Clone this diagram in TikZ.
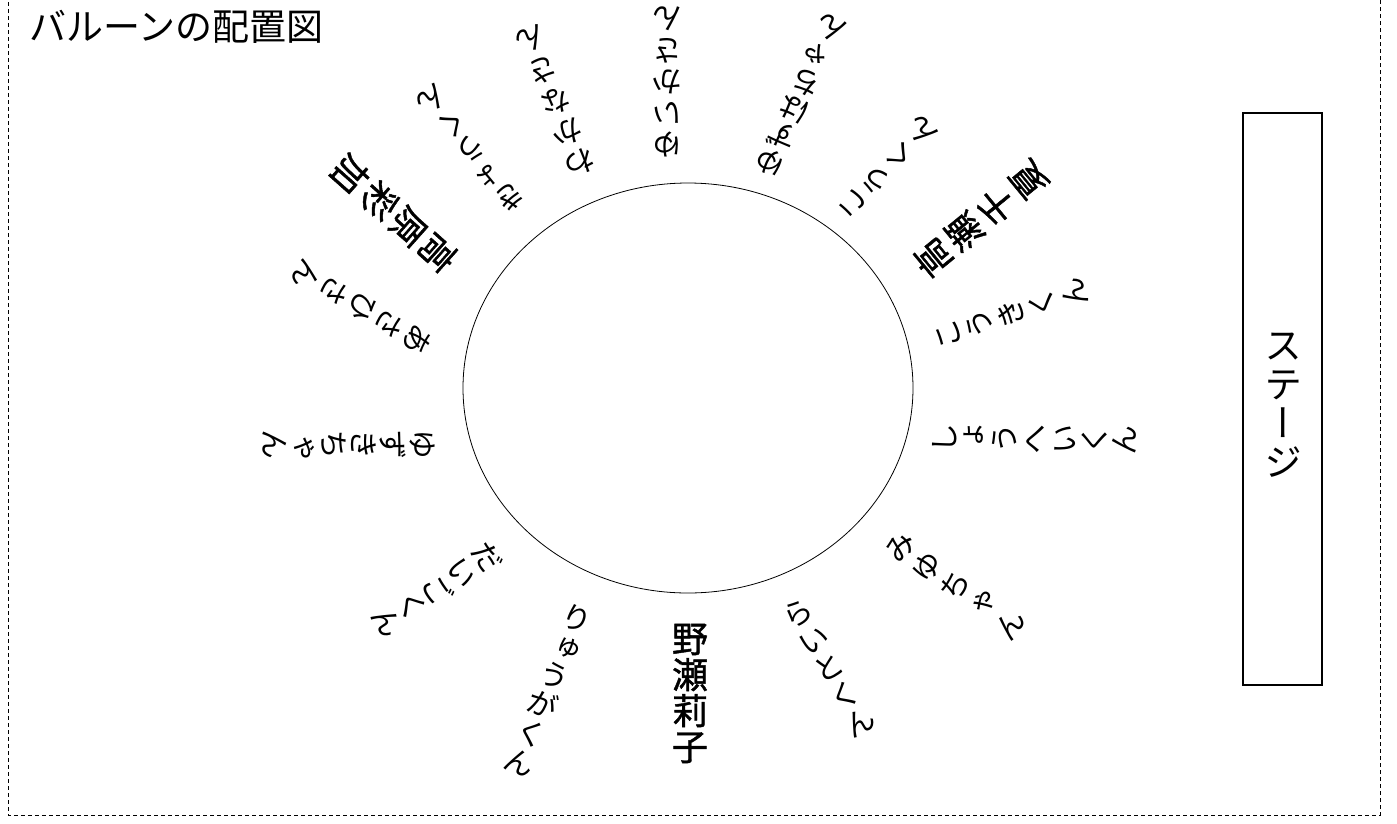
\documentclass[tikz,border=0pt]{standalone}
\usepackage{fontspec}
\usetikzlibrary{shapes.geometric}
\newfontfamily\jpf{Noto Sans CJK JP}
\newfontfamily\jpv[RawFeature=+vert]{Noto Sans CJK JP}
\newfontfamily\jpk[RawFeature=+vert, FakeBold=1.2]{Noto Sans CJK JP}
\newcommand\kp[2]{\jpv\fontsize{#1}{#2}\selectfont\lineskiplimit=-100pt\lineskip=0pt}
\newcommand\kb[2]{\jpk\fontsize{#1}{#2}\selectfont\lineskiplimit=-100pt\lineskip=0pt}
\tikzset{
  lbl/.style={inner sep=0pt, align=center},
  kana/.style={lbl, font=\kp{30}{#1}},
  kanji/.style={lbl, font=\kb{36}{#1}},
  frame/.style={line width=1pt, dash pattern=on 4pt off 3pt},
}
\begin{document}
\begin{tikzpicture}[x=1pt, y=-1pt]
\useasboundingbox (0,0) rectangle (1397,823);
\draw[frame] (8,-5) -- (8,815) -- (1380,815) -- (1380,-5);
\node[anchor=west, inner sep=0pt, font=\jpf\fontsize{37}{40}\selectfont] (title) at (29,27) {バルーンの配置図};
\node[draw, ellipse, line width=0.8pt, minimum width=450pt, minimum height=410pt] (table) at (688,388) {};
\node[draw, line width=1.3pt, minimum width=79pt, minimum height=572pt] (stage) at (1282.5,399) {};
\node[lbl, font=\kp{38}{39}] (stagetext) at (1283,405) {ス\\テ\\ー\\ジ};
% labels (vertical stacks rotated so that they read outwards)
\node[kana=31.5, rotate=180]   (A) at (667,82)      {ゆ\\い\\か\\さ\\ん};
\node[kana=29.4, rotate=155.5] (B) at (800.5,96)    {ゆ\\ず\\は\\ち\\ゃ\\ん};
\node[kana=33.7, rotate=136.2] (C) at (888,167)     {こ\\う\\く\\ん};
\node[kanji=41,  rotate=129.4] (O) at (980.5,219)   {高\\瀬\\千\\夏};
\node[kana=33.2, rotate=108.4] (N) at (1012,313)    {こ\\う\\き\\く\\ん};
\node[kana=30,   rotate=89.4]  (M) at (1034,439)    {し\\ょ\\う\\へ\\い\\く\\ん};
\node[kana=33.7, rotate=54.7]  (L) at (955,586)     {み\\ゆ\\ち\\ゃ\\ん};
\node[kana=31.4, rotate=29.6]  (K) at (829,667.5)   {ら\\い\\と\\く\\ん};
\node[kanji=36,  rotate=0]     (J) at (690,693.5)   {野\\瀬\\莉\\子};
\node[kana=31,   rotate=338.4] (I) at (548.5,690)   {り\\ゅ\\う\\が\\く\\ん};
\node[kana=29.8, rotate=303]   (H) at (437,589.5)   {だ\\い\\ご\\く\\ん};
\node[kana=29.6, rotate=270]   (G) at (349,444.5)   {ゆ\\ず\\き\\ち\\ゃ\\ん};
\node[kana=32.2, rotate=239.6] (F) at (362.5,307.5) {あ\\さ\\ひ\\さ\\ん};
\node[kanji=39.2,rotate=228.4] (E) at (394,214)     {高\\原\\彩\\加};
\node[kana=31.3, rotate=218.5] (D) at (471,149)     {き\\ょ\\う\\く\\ん};
\node[kana=33.1, rotate=201.7] (P) at (555.5,101.5) {わ\\か\\な\\さ\\ん};
\end{tikzpicture}
\end{document}
